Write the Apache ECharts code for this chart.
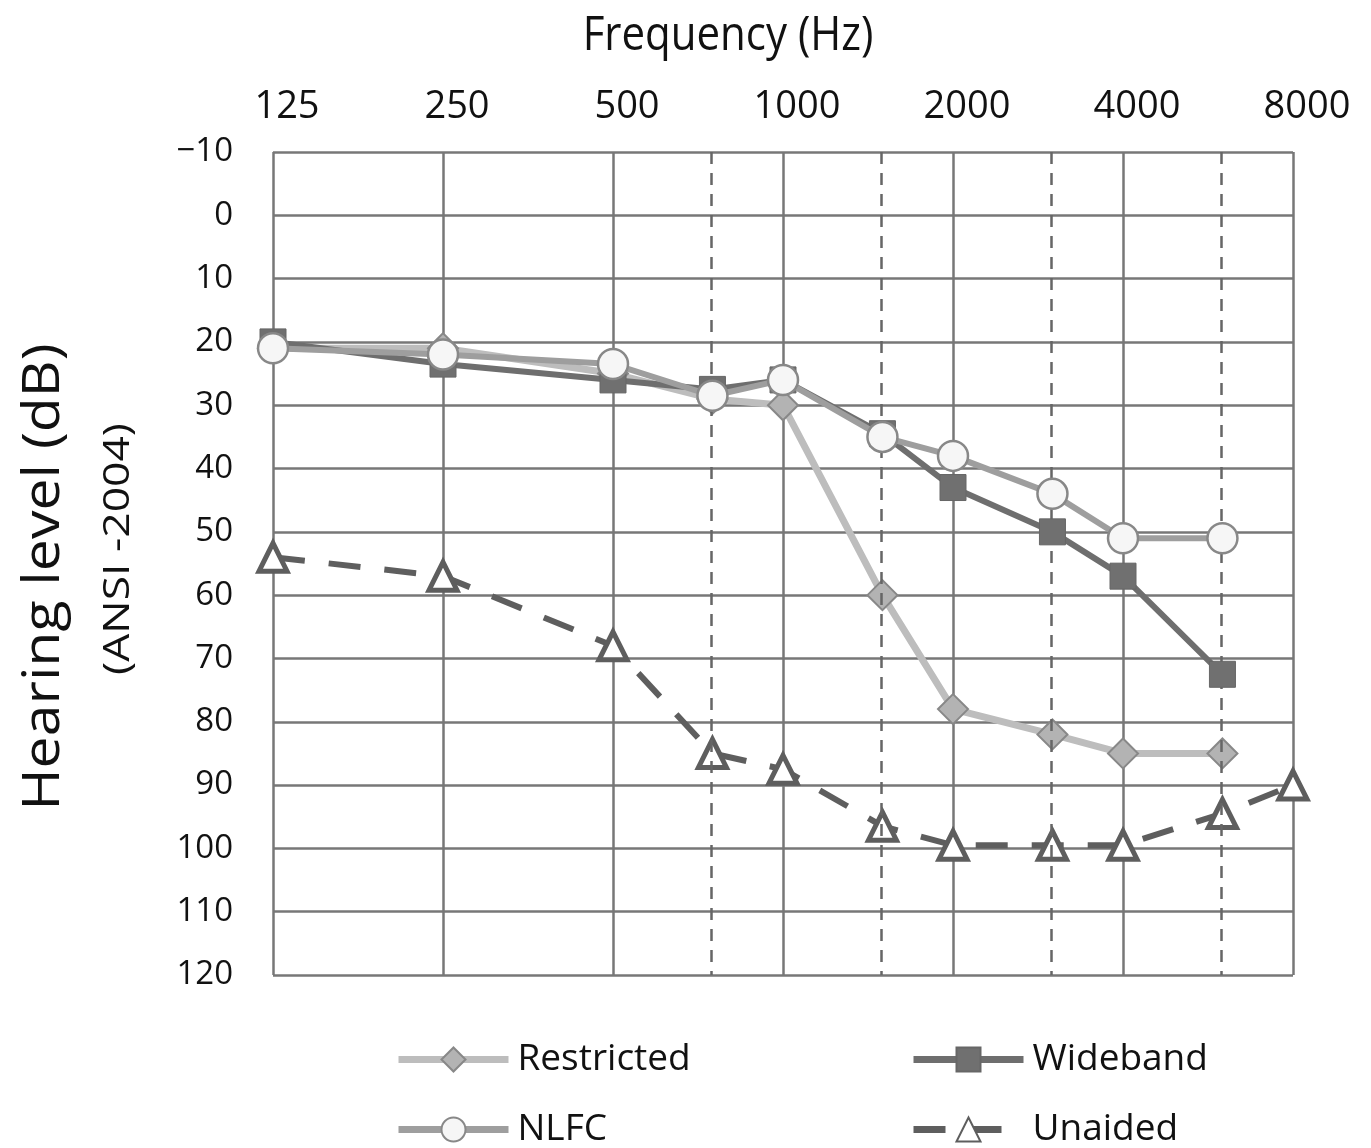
<!DOCTYPE html>
<html>
<head>
<meta charset="utf-8">
<script src="https://cdn.jsdelivr.net/npm/echarts@6/dist/echarts.min.js"></script>
<style>
  html, body { margin: 0; padding: 0; background: #fff; }
  #main { width: 1371px; height: 1148px; }
</style>
</head>
<body>
<div id="main"></div>
<script>
  // audiogram frequencies (Hz) and tick labels
  var freqs = [125, 250, 500, 750, 1000, 1500, 2000, 3000, 4000, 6000];
  var unaidedFreqs = [125, 250, 500, 750, 1000, 1500, 2000, 3000, 4000, 6000, 8000];
  var tickFreqs = [125, 250, 500, 1000, 2000, 4000, 8000];
  var interOctave = [750, 1500, 3000, 6000];

  // hearing levels (dB)
  var restricted = [21, 21, 25, 29, 30, 60, 78, 82, 85, 85];
  var wideband = [20, 23.5, 26, 27.5, 26, 34.5, 43, 50, 57, 72.5];
  var nlfc = [21, 22, 23.5, 28.5, 26, 35, 38, 44, 51, 51];
  var unaided = [54, 57, 68, 85, 87.5, 96.5, 99.5, 99.5, 99.5, 94.5, 90];

  var font = '"Open Sans", "Noto Sans", sans-serif';

  // octaves above 125 Hz, so the axis is a log2 scale
  function oct(f) { return Math.log2(f / 125); }
  function pts(fs, vals) {
    return vals.map(function (v, i) { return [oct(fs[i]), v]; });
  }

  var myChart = echarts.init(document.getElementById('main'));

  var legendBase = {
    itemWidth: 110,
    itemHeight: 30,
    lineStyle: { width: 7 },
    textStyle: { fontSize: 37, fontFamily: font, color: '#111', padding: [0, 0, 0, 4] }
  };

  myChart.setOption({
    backgroundColor: '#fff',
    animation: false,
    grid: { left: 273, right: 78, top: 152, bottom: 173 },
    graphic: [
      {
        type: 'text', x: 728, y: 36, scaleY: 1.15,
        style: { text: 'Frequency (Hz)', fontSize: 42, fontFamily: font, fill: '#111', textAlign: 'center', textVerticalAlign: 'middle' }
      },
      {
        type: 'text', x: 44, y: 577, rotation: Math.PI / 2, scaleX: 1.1,
        style: { text: 'Hearing level (dB)', fontSize: 52, fontFamily: font, fill: '#111', textAlign: 'center', textVerticalAlign: 'middle' }
      },
      {
        type: 'text', x: 118, y: 549, rotation: Math.PI / 2, scaleX: 1.2,
        style: { text: '(ANSI -2004)', fontSize: 37, fontFamily: font, fill: '#111', textAlign: 'center', textVerticalAlign: 'middle' }
      }
    ],
    legend: [
      Object.assign({ left: 390, top: 1036, data: ['Restricted'] }, legendBase),
      Object.assign({ left: 905, top: 1036, data: ['Wideband'] }, legendBase),
      Object.assign({ left: 390, top: 1106, data: ['NLFC'] }, legendBase),
      Object.assign({ left: 905, top: 1106, data: ['Unaided'] }, legendBase)
    ],
    xAxis: {
      type: 'value',
      position: 'top',
      min: 0,
      max: 6,
      interval: 1,
      axisLine: { show: false },
      axisTick: { show: false },
      axisLabel: {
        margin: 26,
        fontSize: 38,
        fontFamily: font,
        color: '#111',
        padding: [0, 0, 0, 28],
        formatter: function (v) {
          var f = 125 * Math.pow(2, v);
          return tickFreqs.indexOf(f) >= 0 ? String(f) : '';
        }
      },
      splitLine: { lineStyle: { color: '#777', width: 2.5 } }
    },
    yAxis: {
      type: 'value',
      inverse: true,
      min: -10,
      max: 120,
      interval: 10,
      axisLine: { show: false },
      axisTick: { show: false },
      axisLabel: {
        margin: 40,
        fontSize: 33,
        fontFamily: font,
        color: '#111',
        formatter: function (v) { return v < 0 ? '\u2212' + (-v) : String(v); }
      },
      splitLine: { lineStyle: { color: '#777', width: 2.5 } }
    },
    series: [
      {
        name: 'Unaided',
        type: 'line',
        data: pts(unaidedFreqs, unaided),
        symbol: 'triangle',
        symbolSize: 28,
        lineStyle: { color: '#5e5e5e', width: 6, type: [32, 24] },
        itemStyle: { color: '#fff', borderColor: '#5e5e5e', borderWidth: 5 },
        z: 3,
        markLine: {
          silent: true,
          symbol: ['none', 'none'],
          label: { show: false },
          lineStyle: { color: '#666', width: 2.5, type: [12, 9] },
          data: interOctave.map(function (f) { return { xAxis: oct(f) }; })
        }
      },
      {
        name: 'Restricted',
        type: 'line',
        data: pts(freqs, restricted),
        symbol: 'diamond',
        symbolSize: 30,
        lineStyle: { color: '#bdbdbd', width: 7 },
        itemStyle: { color: '#b3b3b3', borderColor: '#888', borderWidth: 2 },
        z: 4
      },
      {
        name: 'Wideband',
        type: 'line',
        data: pts(freqs, wideband),
        symbol: 'rect',
        symbolSize: 26,
        lineStyle: { color: '#6e6e6e', width: 6 },
        itemStyle: { color: '#707070', borderColor: '#666', borderWidth: 1 },
        z: 5
      },
      {
        name: 'NLFC',
        type: 'line',
        data: pts(freqs, nlfc),
        symbol: 'circle',
        symbolSize: 30,
        lineStyle: { color: '#9e9e9e', width: 6 },
        itemStyle: { color: '#f6f6f6', borderColor: '#888', borderWidth: 2.5 },
        z: 6
      }
    ]
  });

  window.addEventListener('resize', function () {
    myChart.resize();
  });
</script>
</body>
</html>
